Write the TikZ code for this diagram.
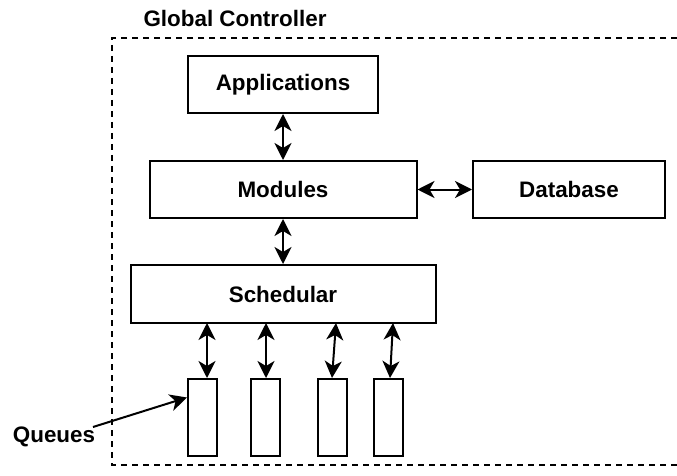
\documentclass[tikz,border=0pt]{standalone}
\usepackage{fontspec}
\setmainfont{Liberation Sans}
\usetikzlibrary{arrows.meta,calc}
\begin{document}
\begin{tikzpicture}[x=1pt,y=-1pt,
  lbl/.style={font=\fontsize{22.4}{26}\selectfont\bfseries},
  blk/.style={draw,line width=2pt,inner sep=0pt,lbl},
  que/.style={draw,line width=2pt,inner sep=0pt,minimum width=29pt,minimum height=77pt},
  tip/.style={Stealth[length=17pt,width=17pt,inset=5pt]},
  conn/.style={line width=2pt,{Stealth[length=17pt,width=17pt,inset=5pt]}-{Stealth[length=17pt,width=17pt,inset=5pt]}},
  onearrow/.style={line width=2pt,-{Stealth[length=17pt,width=17pt,inset=5pt]}}]
\useasboundingbox (0,0) rectangle (677,476);
\fill[white] (0,0) rectangle (677,476);
% dashed container (right side beyond the picture)
\draw[line width=2pt,dash pattern=on 6pt off 5pt] (677,38) -- (112,38) -- (112,465) -- (677,465);
\node[lbl] (title) at (235,18) {Global Controller};
\node[blk,minimum width=190pt,minimum height=57pt] (app) at (283,84.5) {Applications};
\node[blk,minimum width=267pt,minimum height=57pt] (mod) at (283,189.5) {Modules};
\node[blk,minimum width=192pt,minimum height=57pt] (db) at (569,189.5) {Database};
\node[blk,minimum width=305pt,minimum height=58pt] (sch) at (283,294) {Schedular};
\node[que] (q1) at (202.5,417.5) {};
\node[que] (q2) at (265.5,417.5) {};
\node[que] (q3) at (332,417.5) {};
\node[que] (q4) at (388.5,417.5) {};
\node[lbl] (ql) at (54,437) {Queues};
\coordinate (s1) at (207,323);
\coordinate (s2) at (266,323);
\coordinate (s3) at (336,323);
\coordinate (s4) at (393,323);
\coordinate (qs) at (93,427);
\draw[conn] (app.south) -- (mod.north);
\draw[conn] (mod.east) -- (db.west);
\draw[conn] (mod.south) -- (sch.north);
\draw[conn] (s1) -- ([xshift=4.5pt]q1.north);
\draw[conn] (s2) -- ([xshift=0.5pt]q2.north);
\draw[conn] (s3) -- (q3.north);
\draw[conn] (s4) -- ([xshift=1.5pt]q4.north);
\draw[onearrow] (qs) -- ([yshift=20pt]q1.west);
\end{tikzpicture}
\end{document}
